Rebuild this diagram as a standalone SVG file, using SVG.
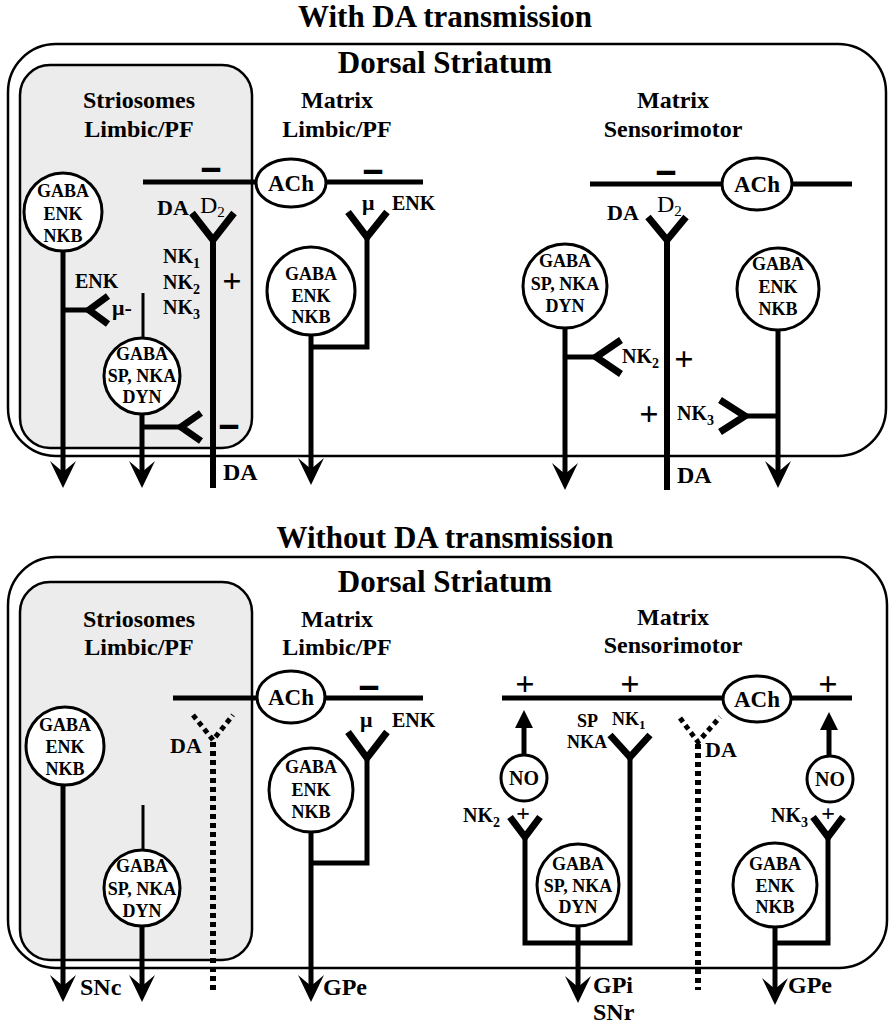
<svg xmlns="http://www.w3.org/2000/svg" xmlns:xlink="http://www.w3.org/1999/xlink" width="890" height="1026" viewBox="0 0 890 1026">
<style>
text{font-family:"Liberation Serif","Times New Roman",serif;font-weight:bold;fill:#000}
.m{text-anchor:middle}
.title{font-size:31px}
.hd{font-size:24px}
.cell{font-size:18px;text-anchor:middle}
.lbl{font-size:22px}
.ach{font-size:23px;text-anchor:middle}
.sm{font-size:20px}
.big{font-size:24px}
.pl{font-size:34px;text-anchor:middle}
.ps{font-size:24px;text-anchor:middle}
.mi{font-size:32px;text-anchor:middle;stroke:#000;stroke-width:2}
.reg{font-weight:normal}
.box{fill:none;stroke:#000;stroke-width:2.5}
.strio{fill:#ececec;stroke:#000;stroke-width:2.5}
.ln{fill:none;stroke:#000;stroke-width:5}
.da{fill:none;stroke:#000;stroke-width:6}
.thin{fill:none;stroke:#000;stroke-width:3}
.rec{fill:none;stroke:#000;stroke-width:7;stroke-linejoin:miter}
.dash{stroke-dasharray:5 4}
.node{fill:#fff;stroke:#000;stroke-width:3}
</style>
<defs>
<path id="ah" d="M0,0 L-13,-27 L0,-16 L13,-27 Z" fill="#000"/>
<path id="up" d="M0,0 L-9,18 L9,18 Z" fill="#000"/>
</defs>

<!-- ================= TOP PANEL ================= -->
<text class="title m" x="445" y="27">With DA transmission</text>
<rect class="box" x="8" y="44" width="878" height="412" rx="48"/>
<rect class="strio" x="20" y="65" width="232" height="383" rx="30"/>
<text class="title m" x="445" y="73">Dorsal Striatum</text>
<text class="hd m" x="139" y="108">Striosomes</text>
<text class="hd m" x="139" y="137">Limbic/PF</text>
<text class="hd m" x="337" y="108">Matrix</text>
<text class="hd m" x="337" y="137">Limbic/PF</text>
<text class="hd m" x="673" y="108">Matrix</text>
<text class="hd m" x="673" y="137">Sensorimotor</text>

<g id="connectors-top">
<path class="ln" d="M63,251 V474"/>
<path class="ln" d="M63,310 H90"/>
<polyline class="rec" points="108,296 89,310 108,324"/>
<path class="thin" d="M143,293 V338"/>
<path class="ln" d="M142,414 V474"/>
<path class="ln" d="M142,427 H181"/>
<polyline class="rec" points="201,413 181,427 201,441"/>
<path class="ln" d="M143,182 H256"/>
<polyline class="rec" points="192,213 213,240 234,213"/>
<path class="da" d="M213,238 V488"/>
<path class="ln" d="M326,182 H423"/>
<polyline class="rec" points="348,212 367,237 387,212"/>
<path class="ln" d="M367,235 V347 H311"/>
<path class="ln" d="M311,335 V471"/>
<path class="ln" d="M590,184 H722"/>
<path class="ln" d="M792,184 H852"/>
<polyline class="rec" points="648,217 667,240 686,217"/>
<path class="da" d="M667,238 V490"/>
<path class="ln" d="M565,328 V476"/>
<path class="ln" d="M565,357 H596"/>
<polyline class="rec" points="621,340 596,357 621,374"/>
<polyline class="rec" points="720,400 745,416 720,432"/>
<path class="ln" d="M745,416 H778"/>
<path class="ln" d="M778,330 V474"/>
<use xlink:href="#ah" x="63" y="488"/>
<use xlink:href="#ah" x="142" y="488"/>
<use xlink:href="#ah" x="311" y="485"/>
<use xlink:href="#ah" x="565" y="490"/>
<use xlink:href="#ah" x="778" y="488"/>
</g>

<g id="t-enk1"><circle class="node" cx="63" cy="212" r="39"/>
<text class="cell" x="63" y="197">GABA</text><text class="cell" x="63" y="220">ENK</text><text class="cell" x="63" y="242">NKB</text></g>
<g id="t-sp1"><circle class="node" cx="142" cy="376" r="38"/>
<text class="cell" x="142" y="360">GABA</text><text class="cell" x="142" y="382">SP, NKA</text><text class="cell" x="142" y="403">DYN</text></g>
<g id="t-ach1"><ellipse class="node" cx="291" cy="183" rx="35" ry="24"/>
<text class="ach" x="291" y="191">ACh</text></g>
<g id="t-enk2"><circle class="node" cx="311" cy="291" r="44"/>
<text class="cell" x="311" y="280">GABA</text><text class="cell" x="311" y="302">ENK</text><text class="cell" x="311" y="323">NKB</text></g>
<g id="t-sp2"><circle class="node" cx="565" cy="286" r="42"/>
<text class="cell" x="565" y="267">GABA</text><text class="cell" x="565" y="290">SP, NKA</text><text class="cell" x="565" y="312">DYN</text></g>
<g id="t-ach2"><ellipse class="node" cx="757" cy="184" rx="35" ry="26"/>
<text class="ach" x="757" y="192">ACh</text></g>
<g id="t-enk3"><circle class="node" cx="778" cy="289" r="41"/>
<text class="cell" x="778" y="270">GABA</text><text class="cell" x="778" y="293">ENK</text><text class="cell" x="778" y="315">NKB</text></g>

<g id="labels-top">
<text class="mi" x="211" y="177">–</text>
<text class="mi" x="373" y="179">–</text>
<text class="mi" x="666" y="180">–</text>
<text class="mi" x="229" y="434">–</text>
<text class="lbl" x="157" y="215">DA</text>
<text class="lbl reg" x="200" y="213" style="font-size:24px">D<tspan style="font-size:15px" dy="4">2</tspan></text>
<text class="sm" x="163" y="263">NK<tspan style="font-size:14px" dy="5">1</tspan></text>
<text class="sm" x="163" y="289">NK<tspan style="font-size:14px" dy="5">2</tspan></text>
<text class="sm" x="163" y="314">NK<tspan style="font-size:14px" dy="5">3</tspan></text>
<text class="pl" x="232" y="292">+</text>
<text class="sm" x="75" y="288">ENK</text>
<text class="lbl" x="112" y="315">μ-</text>
<text class="big" x="223" y="480">DA</text>
<text class="lbl" x="362" y="210">μ</text>
<text class="sm" x="392" y="210">ENK</text>
<text class="lbl" x="607" y="220">DA</text>
<text class="lbl reg" x="657" y="212" style="font-size:24px">D<tspan style="font-size:15px" dy="4">2</tspan></text>
<text class="sm" x="622" y="363">NK<tspan style="font-size:14px" dy="5">2</tspan></text>
<text class="pl" x="684" y="370">+</text>
<text class="pl" x="649" y="425">+</text>
<text class="sm" x="677" y="420">NK<tspan style="font-size:14px" dy="5">3</tspan></text>
<text class="big" x="677" y="483">DA</text>
</g>

<!-- ================= BOTTOM PANEL ================= -->
<text class="title m" x="445" y="548">Without DA transmission</text>
<rect class="box" x="8" y="557" width="879" height="411" rx="48"/>
<rect class="strio" x="20" y="582" width="232" height="378" rx="30"/>
<text class="title m" x="445" y="592">Dorsal Striatum</text>
<text class="hd m" x="139" y="627">Striosomes</text>
<text class="hd m" x="139" y="655">Limbic/PF</text>
<text class="hd m" x="337" y="627">Matrix</text>
<text class="hd m" x="337" y="655">Limbic/PF</text>
<text class="hd m" x="673" y="625">Matrix</text>
<text class="hd m" x="673" y="653">Sensorimotor</text>

<g id="connectors-bottom">
<path class="ln" d="M63,785 V988"/>
<path class="thin" d="M143,805 V850"/>
<path class="ln" d="M142,926 V988"/>
<path class="ln" d="M173,698 H257"/>
<polyline class="rec dash" style="stroke-width:5" points="193,715 213,740 233,715"/>
<path class="da dash" d="M213,742 V990"/>
<path class="ln" d="M325,698 H423"/>
<polyline class="rec" points="348,732 367,758 387,732"/>
<path class="ln" d="M367,756 V863 H311"/>
<path class="ln" d="M311,832 V988"/>
<path class="ln" d="M502,698 H723"/>
<path class="ln" d="M791,698 H852"/>
<path class="ln" d="M524,755 V726"/>
<use xlink:href="#up" x="524" y="710"/>
<path class="ln" d="M829,756 V728"/>
<use xlink:href="#up" x="829" y="712"/>
<polyline class="rec" points="610,735 630,757 650,735"/>
<path class="ln" d="M630,755 V943 H525 V835"/>
<polyline class="rec" points="510,817 525,837 540,817"/>
<path class="ln" d="M578,926 V989"/>
<polyline class="rec dash" style="stroke-width:5" points="680,718 698,742 720,717"/>
<path class="da dash" d="M698,744 V990"/>
<polyline class="rec" points="813,817 828,837 843,817"/>
<path class="ln" d="M828,835 V943 H775"/>
<path class="ln" d="M775,927 V991"/>
<use xlink:href="#ah" x="63" y="1002"/>
<use xlink:href="#ah" x="142" y="1002"/>
<use xlink:href="#ah" x="311" y="1002"/>
<use xlink:href="#ah" x="578" y="1003"/>
<use xlink:href="#ah" x="775" y="1005"/>
</g>

<g id="b-enk1"><circle class="node" cx="65" cy="746" r="39"/>
<text class="cell" x="65" y="731">GABA</text><text class="cell" x="65" y="753">ENK</text><text class="cell" x="65" y="775">NKB</text></g>
<g id="b-sp1"><circle class="node" cx="142" cy="888" r="38"/>
<text class="cell" x="142" y="872">GABA</text><text class="cell" x="142" y="895">SP, NKA</text><text class="cell" x="142" y="917">DYN</text></g>
<g id="b-ach1"><ellipse class="node" cx="291" cy="697" rx="34" ry="26"/>
<text class="ach" x="291" y="705">ACh</text></g>
<g id="b-enk2"><circle class="node" cx="311" cy="790" r="42"/>
<text class="cell" x="311" y="773">GABA</text><text class="cell" x="311" y="796">ENK</text><text class="cell" x="311" y="818">NKB</text></g>
<g id="b-no1"><circle class="node" cx="524" cy="778" r="23"/>
<text class="sm m" x="524" y="785">NO</text></g>
<g id="b-ach2"><ellipse class="node" cx="757" cy="699" rx="34" ry="23"/>
<text class="ach" x="757" y="707">ACh</text></g>
<g id="b-no2"><circle class="node" cx="830" cy="779" r="23"/>
<text class="sm m" x="830" y="786">NO</text></g>
<g id="b-sp2"><circle class="node" cx="578" cy="885" r="41"/>
<text class="cell" x="578" y="870">GABA</text><text class="cell" x="578" y="892">SP, NKA</text><text class="cell" x="578" y="913">DYN</text></g>
<g id="b-enk3"><circle class="node" cx="775" cy="885" r="42"/>
<text class="cell" x="775" y="870">GABA</text><text class="cell" x="775" y="892">ENK</text><text class="cell" x="775" y="913">NKB</text></g>

<g id="labels-bottom">
<text class="mi" x="369" y="695">–</text>
<text class="lbl" x="360" y="727">μ</text>
<text class="sm" x="392" y="727">ENK</text>
<text class="lbl" x="170" y="753">DA</text>
<text class="big" x="80" y="995">SNc</text>
<text class="big" x="323" y="995">GPe</text>
<text class="pl" x="525" y="695">+</text>
<text class="pl" x="630" y="695">+</text>
<text class="pl" x="828" y="695">+</text>
<text x="577" y="727" style="font-size:18px">SP</text>
<text x="612" y="725" style="font-size:18px">NK<tspan style="font-size:13px" dy="4">1</tspan></text>
<text x="567" y="748" style="font-size:18px">NKA</text>
<text class="lbl" x="705" y="757">DA</text>
<text class="sm" x="500" y="822" style="text-anchor:end">NK<tspan style="font-size:14px" dy="5">2</tspan></text>
<text class="ps" x="523" y="821">+</text>
<text class="sm" x="808" y="822" style="text-anchor:end">NK<tspan style="font-size:14px" dy="5">3</tspan></text>
<text class="ps" x="828" y="821">+</text>
<text class="big" x="593" y="993">GPi</text>
<text class="big" x="593" y="1020">SNr</text>
<text class="big" x="788" y="993">GPe</text>
</g>
</svg>
